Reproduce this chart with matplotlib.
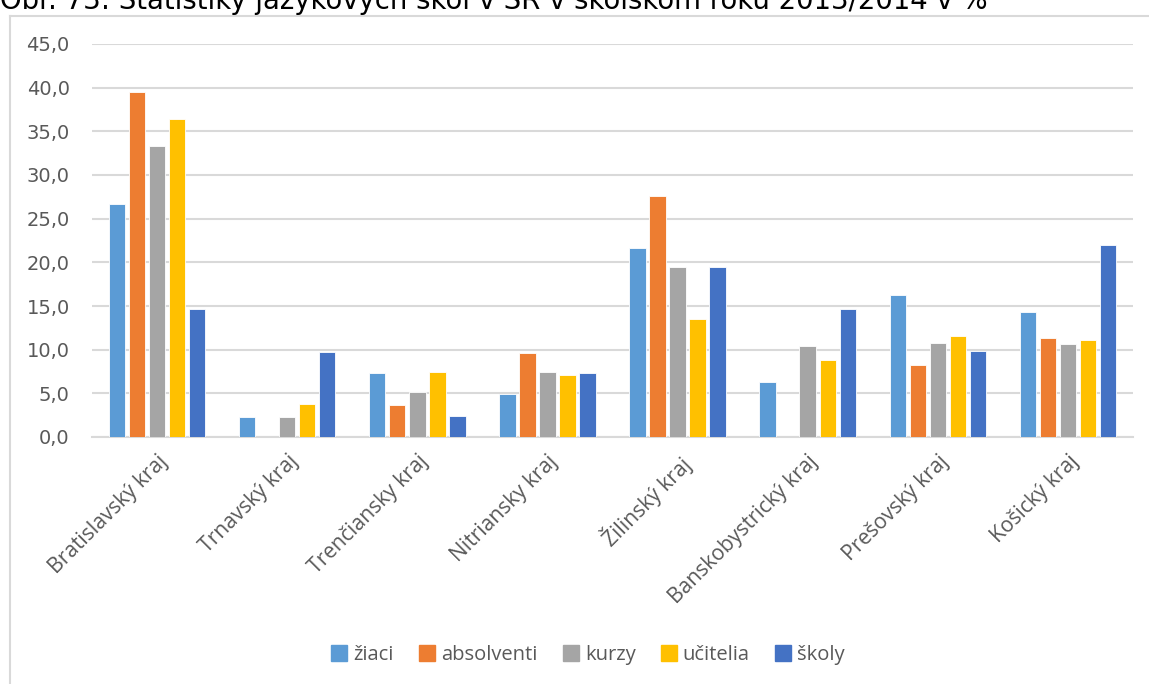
import matplotlib.pyplot as plt
import numpy as np
from matplotlib.patches import Rectangle
from matplotlib.lines import Line2D

regions = [
    "Bratislavský kraj", "Trnavský kraj", "Trenčiansky kraj", "Nitriansky kraj",
    "Žilinský kraj", "Banskobystrický kraj", "Prešovský kraj", "Košický kraj",
]
series = ["žiaci", "absolventi", "kurzy", "učitelia", "školy"]
ziaci = [26.7, 2.3, 7.3, 4.9, 21.6, 6.3, 16.3, 14.3]
absolventi = [39.5, 0.0, 3.7, 9.6, 27.6, 0.0, 8.3, 11.3]
kurzy = [33.3, 2.3, 5.2, 7.4, 19.5, 10.4, 10.8, 10.7]
ucitelia = [36.4, 3.8, 7.4, 7.1, 13.5, 8.8, 11.6, 11.1]
skoly = [14.6, 9.7, 2.4, 7.3, 19.5, 14.6, 9.8, 22.0]
colors = ["#5B9BD5", "#ED7D31", "#A5A5A5", "#FFC000", "#4472C4"]
yticks = np.arange(0, 46, 5)

values = [ziaci, absolventi, kurzy, ucitelia, skoly]

fig = plt.figure(figsize=(11.49, 6.84), dpi=100)
ax = fig.add_axes([92 / 1149, 1 - 437 / 684, (1133 - 92) / 1149, (437 - 44) / 684])

x = np.arange(len(regions))
step = 0.154
width = 0.126
for i, (name, vals, c) in enumerate(zip(series, values, colors)):
    ax.bar(x + (i - 2) * step, vals, width, color=c, edgecolor="white",
           linewidth=0.6, label=name, zorder=3)

ax.set_xlim(-0.5, len(regions) - 0.5)
ax.set_ylim(0, 45)
ax.set_yticks(yticks)
ax.set_yticklabels([f"{v:.1f}".replace(".", ",") for v in yticks],
                   fontsize=14, color="#595959", family="DejaVu Sans")
ax.set_xticks(x)
ax.set_xticklabels(regions, rotation=45, ha="right", rotation_mode="anchor",
                   fontsize=15.2, color="#595959", family="Open Sans")
ax.tick_params(axis="both", length=0)
ax.tick_params(axis="y", pad=16)
ax.tick_params(axis="x", pad=10)
ax.grid(axis="y", color="#D9D9D9", linewidth=1.5, zorder=0)
for s in ["top", "right", "left"]:
    ax.spines[s].set_visible(False)
ax.spines["bottom"].set_color("#D9D9D9")
ax.spines["bottom"].set_linewidth(1.5)

# outer chart frame (only left and top visible)
fig.add_artist(Line2D([10 / 1149, 10 / 1149], [0, 1 - 16 / 684],
                      transform=fig.transFigure, color="#D9D9D9", lw=1.5))
fig.add_artist(Line2D([10 / 1149, 1], [1 - 16 / 684, 1 - 16 / 684],
                      transform=fig.transFigure, color="#D9D9D9", lw=1.5))

fig.text(0.0, 1 - 9 / 684, "Obr. 73: Štatistiky jazykových škôl v SR v školskom roku 2013/2014 v %",
         fontsize=19.8, family="DejaVu Sans", va="baseline", ha="left", color="black")

handles = [Rectangle((0, 0), 1, 1, color=c) for c in colors]
leg = fig.legend(handles, series, loc="center", bbox_to_anchor=(588 / 1149, 1 - 655 / 684),
                 ncol=5, frameon=False, handlelength=0.8, handleheight=0.8,
                 handletextpad=0.3, columnspacing=1.25, prop={"family": "Open Sans", "size": 14.5})
for t in leg.get_texts():
    t.set_color("#595959")

fig.savefig("out.png", dpi=100)
